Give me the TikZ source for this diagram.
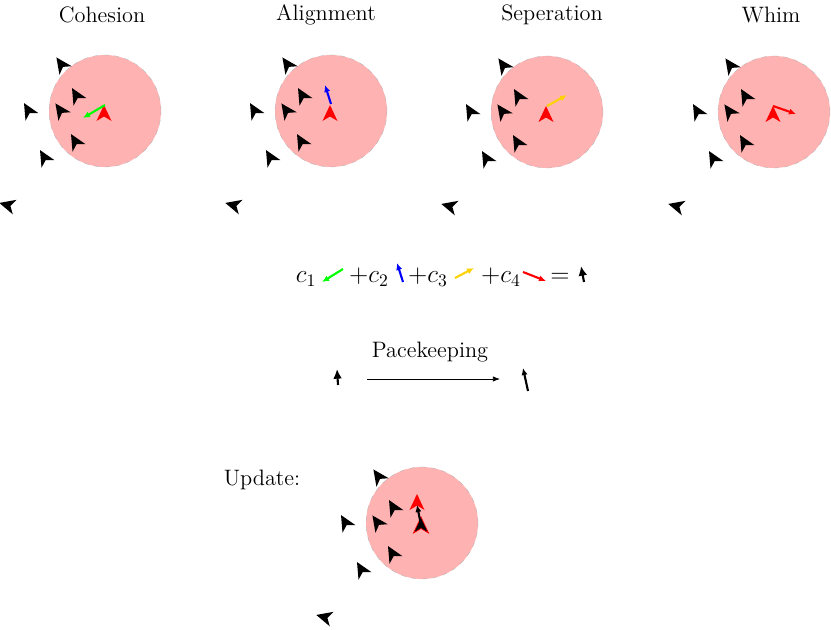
\documentclass[tikz,border=0pt]{standalone}
\usetikzlibrary{arrows.meta}
\usetikzlibrary{positioning}

% one boid: position, heading
\newcommand{\boid}[4][black]{%
  \fill[#1, shift={(#2,#3)}, rotate=#4] (8,0) -- (-8,7.5) -- (-3.5,0) -- (-8,-7.5) -- cycle;}

% the neighbours, relative to the centre of the zone
\newcommand{\flock}{%
  \boid{-44}{47}{125}
  \boid{-29}{16}{120}
  \boid{-45}{1}{125}
  \boid{-77}{1}{120}
  \boid{-30}{-30}{120}
  \boid{-61}{-46}{120}
  \boid{-98}{-94}{165}}

\begin{document}
\begin{tikzpicture}[x=0.02cm, y=0.02cm, font=\fontsize{12.7}{15}\selectfont,
    zone/.style={fill=red!30, draw=gray!60, dashed, very thin},
    force/.style={very thick, -{Latex[length=4pt,width=3.5pt]}},
    nudge/.style={very thick, -{Latex[length=5.5pt,width=5pt]}},
    sum/.style={anchor=base, font=\Large}]
  \useasboundingbox (0,0) rectangle (831,629);

  % Cohesion
  \begin{scope}[shift={(105,518)}]
    \draw[zone] (0,0) circle[radius=56];
    \flock
    \boid[red]{-1}{-2}{90}
    \coordinate (me1) at (0,6);
    \draw[force, green] (me1) -- ++(-22,-13);
  \end{scope}
  \node (cohesion) at (102,614) {Cohesion};

  % Alignment
  \begin{scope}[shift={(331,518)}]
    \draw[zone] (0,0) circle[radius=56];
    \flock
    \boid[red]{-1}{-2}{90}
    \coordinate (me2) at (0,7);
    \draw[force, blue] (me2) -- ++(-6,19);
  \end{scope}
  \node (alignment) at (326,614) {Alignment};

  % Seperation
  \begin{scope}[shift={(547,517)}]
    \draw[zone] (0,0) circle[radius=56];
    \flock
    \boid[red]{-1}{-2}{90}
    \coordinate (me3) at (0,6);
    \draw[force, yellow!85!red] (me3) -- ++(20,11);
  \end{scope}
  \node (seperation) at (552,614) {Seperation};

  % Whim
  \begin{scope}[shift={(774,517)}]
    \draw[zone] (0,0) circle[radius=56];
    \flock
    \boid[red]{-1}{-2}{90}
    \coordinate (me4) at (-1,6);
    \draw[force, red] (me4) -- ++(23,-8);
  \end{scope}
  \node (whim) at (771,614) {Whim};

  % Weighted sum
  \node[sum] (c1) at (306,346) {$c_1$};
  \node[sum] (c2) at (369,346) {$+c_2$};
  \node[sum] (c3) at (428,346) {$+c_3$};
  \node[sum] (c4) at (501,346) {$+c_4$};
  \node[sum] (eq) at (560,346) {$=$};
  \draw[force, green] (343,360) -- (322,347);
  \draw[force, blue] (403,347) -- (397,366);
  \draw[force, yellow!85!red] (455,351) -- (474,361);
  \draw[force, red] (523,357) -- (546,348);
  \draw[nudge] (584,347) -- (581,363);

  % Pacekeeping
  \draw[nudge] (338,244) -- (337,260);
  \coordinate (pkin) at (367,250);
  \coordinate (pkout) at (500,250);
  \draw[-{Latex[length=4pt,width=3pt]}] (pkin) -- (pkout);
  \node (pk) at (430,277) {Pacekeeping};
  \draw[force] (528,238) -- (523,261);

  % Update
  \node (update) at (262,149) {Update:};
  \begin{scope}[shift={(422,106)}]
    \draw[zone] (0,0) circle[radius=56];
    \flock
    \boid[red]{-5}{21}{90}
    \boid[black, draw=red, thin]{-1}{-2}{90}
    \draw[force] (-1,-2) -- (-5,18);
  \end{scope}
\end{tikzpicture}
\end{document}
